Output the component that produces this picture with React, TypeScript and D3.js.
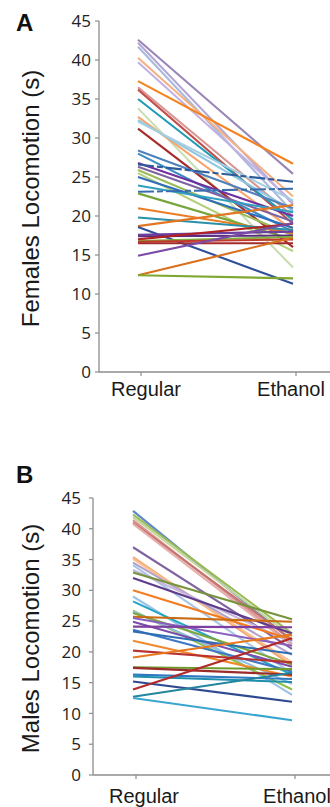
import * as d3 from "d3"

const groups = ["Regular", "Ethanol"]
const yTicks = [0, 5, 10, 15, 20, 25, 30, 35, 40, 45]

// Females: locomotion time (s) on regular vs ethanol
const femaleRegular = [42.6, 42.2, 41.7, 40.3, 39.7, 37.3, 36.5, 36.2, 35.0, 33.8, 32.7, 32.3, 32.1, 31.2, 28.4, 28.0, 26.8, 26.6, 26.3, 25.9, 25.5, 25.0, 23.9, 23.1, 22.9, 21.0, 19.8, 18.7, 18.6, 17.6, 17.4, 17.0, 16.8, 16.7, 16.5, 14.9, 12.4, 12.4]
const femaleEthanol = [25.4, 21.5, 20.5, 22.5, 21.8, 26.7, 20.0, 19.0, 19.5, 13.4, 18.2, 20.7, 22.0, 16.0, 21.0, 18.0, 20.0, 24.4, 19.3, 17.5, 15.5, 18.5, 20.5, 23.5, 17.0, 17.8, 18.2, 21.4, 11.3, 18.0, 17.5, 19.0, 17.3, 17.0, 16.5, 19.1, 17.2, 12.0]
const femaleColors = ["#9a85b8", "#b4a7d6", "#a9b8dc", "#f4b183", "#c3b1e1", "#f4831f", "#d99694", "#c0504d", "#1f9bb5", "#c9ddb0", "#f8a46a", "#93c6e0", "#a6cee3", "#a52a2a", "#4f81bd", "#3c8dc5", "#7030a0", "#2e5c9a", "#8064a2", "#9bbb59", "#b5cf7a", "#2f6eba", "#31a0c0", "#3a6db0", "#76a53a", "#e97d26", "#2a8fa8", "#e37622", "#2f4f9a", "#6b3fa0", "#5b2c83", "#b22222", "#7faf3c", "#c0392b", "#a32b2b", "#7b4ba5", "#d9701e", "#7fa832"]
const femaleDashed = [17, 23]

// Males
const maleRegular = [42.9, 42.3, 41.9, 41.4, 41.0, 40.8, 37.0, 35.4, 35.1, 34.5, 34.1, 33.3, 32.9, 32.0, 30.0, 29.0, 28.2, 26.7, 26.6, 26.3, 25.7, 25.5, 24.9, 24.1, 23.6, 23.3, 21.8, 20.2, 19.1, 17.5, 17.4, 16.3, 16.0, 15.2, 13.9, 12.7, 12.5]
const maleEthanol = [21.8, 23.0, 22.5, 21.3, 22.0, 21.0, 20.5, 17.8, 18.3, 19.5, 16.5, 21.5, 25.3, 23.0, 22.0, 13.0, 16.3, 13.9, 14.8, 18.0, 24.9, 21.0, 17.6, 24.0, 16.8, 19.7, 16.0, 18.3, 22.8, 17.2, 16.3, 15.6, 15.1, 11.9, 22.2, 16.6, 8.9]
const maleColors = ["#5b86c9", "#9bbb59", "#c4d79b", "#d99694", "#c87470", "#e6b0ae", "#8064a2", "#f7a46c", "#fac090", "#b3a2c7", "#a8c4e6", "#c5b6dc", "#77933c", "#5f3b8c", "#f47c20", "#9dc3e6", "#23a5c5", "#92c047", "#8fc1e3", "#7ea53b", "#c86b12", "#8b5fbf", "#7a4daa", "#7f3fa0", "#3f78c8", "#2e6db4", "#f08a2c", "#b83232", "#e8781e", "#6e9b2e", "#9c2a2a", "#2f78c2", "#1f8fb0", "#2e4a8f", "#b22a2a", "#23869e", "#3aa6d0"]

interface PanelProps {
  letter: string
  title: string
  regular: number[]
  ethanol: number[]
  colors: string[]
  dashed?: number[]
  axisX: number
  top: number
  bottom: number
  xRange: [number, number]
  letterY: number
  tickLabelGap: number
  labelDx: [number, number]
  labelY: number
}

function Panel(p: PanelProps) {
  const x = d3.scalePoint<string>().domain(groups).range(p.xRange)
  const y = d3.scaleLinear().domain([0, 45]).range([p.bottom, p.top])
  const x0 = x("Regular") || 0
  const x1 = x("Ethanol") || 0
  const axisColor = "#8c8c8c"

  return (
    <g>
      <text x={16} y={p.letterY} fontFamily="Liberation Sans, Arial, sans-serif" fontWeight="bold" fontSize={24} fill="#111">
        {p.letter}
      </text>
      <text
        transform={`translate(${39},${(p.top + p.bottom) / 2 + 2}) rotate(-90)`}
        textAnchor="middle"
        fontFamily="Liberation Sans, Arial, sans-serif"
        fontSize={24}
        fill="#1a1a1a"
      >
        {p.title}
      </text>

      {/* y axis */}
      <line x1={p.axisX} x2={p.axisX} y1={p.top} y2={p.bottom} stroke={axisColor} strokeWidth={1.3} />
      {yTicks.map(t => (
        <g key={t}>
          <line x1={p.axisX - 4} x2={p.axisX} y1={y(t)} y2={y(t)} stroke={axisColor} strokeWidth={1.2} />
          <text
            x={p.axisX - p.tickLabelGap}
            y={y(t)}
            dy="0.36em"
            textAnchor="end"
            fontFamily="Open Sans, sans-serif"
            fontSize={17}
            fill="#222"
          >
            {t}
          </text>
        </g>
      ))}

      {/* x axis */}
      <line x1={p.axisX} x2={340} y1={p.bottom} y2={p.bottom} stroke={axisColor} strokeWidth={1.3} />
      {groups.map((g, i) => (
        <g key={g}>
          <line x1={(x(g) || 0) + 3} x2={(x(g) || 0) + 3} y1={p.bottom} y2={p.bottom + 4} stroke={axisColor} strokeWidth={1.2} />
          <text
            x={(x(g) || 0) + p.labelDx[i]}
            y={p.labelY}
            textAnchor="middle"
            fontFamily="Liberation Sans, Arial, sans-serif"
            fontSize={20}
            fill="#1a1a1a"
          >
            {g}
          </text>
        </g>
      ))}

      {/* paired lines */}
      {p.regular.map((r, i) => (
        <line
          key={i}
          x1={x0}
          y1={y(r)}
          x2={x1}
          y2={y(p.ethanol[i])}
          stroke={p.colors[i]}
          strokeWidth={2.1}
          strokeDasharray={p.dashed && p.dashed.includes(i) ? "16,3,6,3" : undefined}
        />
      ))}
    </g>
  )
}

export default function App() {
  return (
    <svg width={330} height={807} style={{ position: "absolute", left: 0, top: 0, background: "#fff" }}>
      <Panel
        letter="A"
        title="Females Locomotion (s)"
        regular={femaleRegular}
        ethanol={femaleEthanol}
        colors={femaleColors}
        dashed={femaleDashed}
        axisX={99}
        top={21}
        bottom={372}
        xRange={[138, 293]}
        letterY={31}
        tickLabelGap={8}
        labelDx={[8, -2]}
        labelY={396}
      />
      <Panel
        letter="B"
        title="Males Locomotion (s)"
        regular={maleRegular}
        ethanol={maleEthanol}
        colors={maleColors}
        axisX={93}
        top={498}
        bottom={775}
        xRange={[133, 292]}
        letterY={483}
        tickLabelGap={12}
        labelDx={[11, 5]}
        labelY={803}
      />
    </svg>
  )
}
